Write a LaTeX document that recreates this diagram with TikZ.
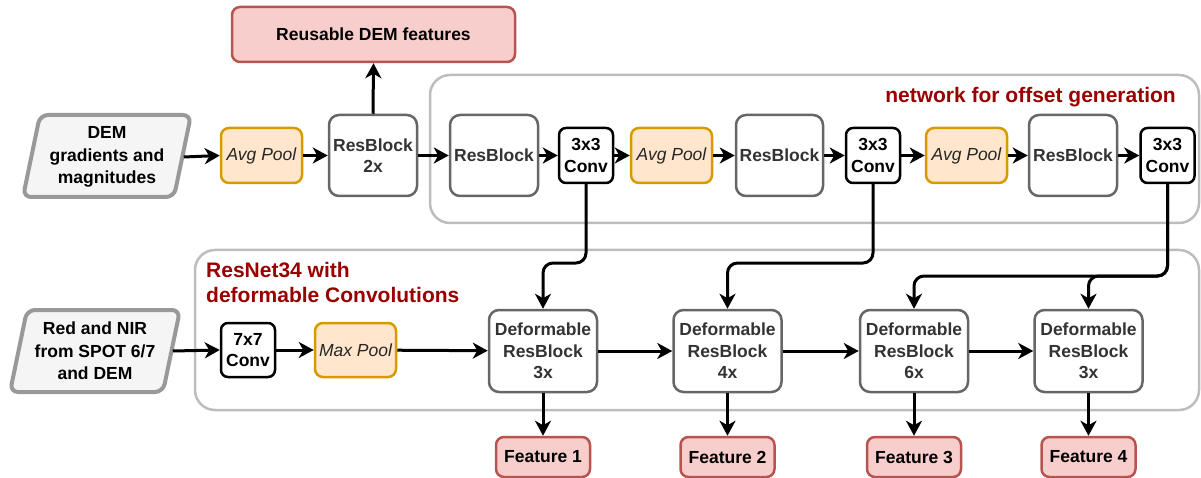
\documentclass[tikz,border=0pt]{standalone}
\usepackage{fontspec}
\setmainfont{Liberation Sans}
\usetikzlibrary{arrows.meta}
\definecolor{boxgray}{HTML}{666666}
\definecolor{txtgray}{HTML}{333333}
\definecolor{poolline}{HTML}{D79B00}
\definecolor{poolfill}{HTML}{FFE6CC}
\definecolor{featline}{HTML}{B85450}
\definecolor{featfill}{HTML}{F8CECC}
\definecolor{inline}{HTML}{999999}
\definecolor{infill}{HTML}{F5F5F5}
\definecolor{groupline}{HTML}{BDBDBD}
\definecolor{titlered}{HTML}{990000}
\tikzset{
  base/.style={inner sep=0pt, align=center, line width=2.5pt,
    font=\fontsize{17.5}{21.5}\selectfont\bfseries},
  resblk/.style={base, draw=boxgray, fill=white, text=txtgray, rounded corners=10pt},
  convblk/.style={base, draw=black, fill=white, text=black, rounded corners=7pt,
    minimum width=54pt, minimum height=55pt},
  poolblk/.style={base, draw=poolline, fill=poolfill, text=black!85, rounded corners=8pt,
    minimum width=81pt, minimum height=55pt,
    font=\fontsize{17.5}{21.5}\selectfont\itshape},
  featblk/.style={base, draw=featline, fill=featfill, text=black, rounded corners=8pt},
  inputtxt/.style={base, text=black, font=\fontsize{17.5}{22.5}\selectfont\bfseries},
  inputshape/.style={draw=inline, fill=infill, line width=4pt, rounded corners=8pt},
  group/.style={draw=groupline, line width=2.5pt, rounded corners=20pt},
  grouptitle/.style={inner sep=0pt, text=titlered, align=left,
    font=\fontsize{21}{25}\selectfont\bfseries},
  arr/.style={draw=black, line width=3pt, rounded corners=10pt,
    -{Stealth[length=15pt, width=16pt, inset=4.5pt]}},
}
\begin{document}
\begin{tikzpicture}[x=1pt, y=-1pt]
\useasboundingbox (0,0) rectangle (1201,478);

% group frames
\draw[group] (430,75) rectangle (1199,223);
\draw[group] (195,250) rectangle (1199,410);
\node[grouptitle, anchor=base east] (offtitle) at (1176,103) {network for offset generation};
\node[grouptitle, anchor=north west] (restitle) at (206,262) {ResNet34 with\\deformable Convolutions};

% inputs
\draw[inputshape] (40,115) -- (191,115) -- (174,197) -- (23,197) -- cycle;
\node[inputtxt, minimum width=151pt, minimum height=82pt] (dem) at (107,157)
  {DEM\\gradients and\\magnitudes};
\draw[inputshape] (27,310) -- (180,310) -- (163,392) -- (10,392) -- cycle;
\node[inputtxt, minimum width=153pt, minimum height=82pt] (rnir) at (95,351)
  {Red and NIR\\from SPOT 6/7\\and DEM};

% offset branch
\node[featblk, minimum width=283pt, minimum height=55pt] (reuse) at (373.5,34.5) {Reusable DEM features};
\node[poolblk] (avg1) at (261.5,155.5) {Avg Pool};
\node[resblk, minimum width=88pt, minimum height=81pt] (rb0) at (373,155.5) {ResBlock\\2x};
\node[resblk, minimum width=88pt, minimum height=81pt] (rb1) at (494,155.5) {ResBlock};
\node[convblk] (conv1) at (586,155.5) {3x3\\Conv};
\node[poolblk] (avg2) at (671.5,155.5) {Avg Pool};
\node[resblk, minimum width=87pt, minimum height=81pt] (rb2) at (779.5,155.5) {ResBlock};
\node[convblk] (conv2) at (873,155.5) {3x3\\Conv};
\node[poolblk] (avg3) at (966.5,155.5) {Avg Pool};
\node[resblk, minimum width=88pt, minimum height=81pt] (rb3) at (1073,155.5) {ResBlock};
\node[convblk] (conv3) at (1167.5,155.5) {3x3\\Conv};

% backbone
\node[convblk, minimum height=54pt] (conv7) at (248,350) {7x7\\Conv};
\node[poolblk, minimum height=54pt] (maxp) at (355.5,350) {Max Pool};
\node[resblk, minimum width=108pt, minimum height=82pt] (d1) at (543,351) {Deformable\\ResBlock\\3x};
\node[resblk, minimum width=108pt, minimum height=82pt] (d2) at (727.5,351) {Deformable\\ResBlock\\4x};
\node[resblk, minimum width=108pt, minimum height=82pt] (d3) at (914,351) {Deformable\\ResBlock\\6x};
\node[resblk, minimum width=108pt, minimum height=82pt] (d4) at (1088.5,351) {Deformable\\ResBlock\\3x};
\node[featblk, minimum width=94pt, minimum height=40pt] (f1) at (543,457) {Feature 1};
\node[featblk, minimum width=94pt, minimum height=40pt] (f2) at (727.5,457) {Feature 2};
\node[featblk, minimum width=94pt, minimum height=40pt] (f3) at (914,457) {Feature 3};
\node[featblk, minimum width=94pt, minimum height=40pt] (f4) at (1088.5,457) {Feature 4};

% top row connectors
\draw[arr] (dem.east) -- (avg1.west);
\draw[arr] (avg1) -- (rb0);
\draw[arr] (rb0.north) -- (reuse.south);
\draw[arr] (rb0) -- (rb1);
\draw[arr] (rb1) -- (conv1);
\draw[arr] (conv1) -- (avg2);
\draw[arr] (avg2) -- (rb2);
\draw[arr] (rb2) -- (conv2);
\draw[arr] (conv2) -- (avg3);
\draw[arr] (avg3) -- (rb3);
\draw[arr] (rb3) -- (conv3);

% offsets fed into the deformable blocks
\draw[arr] (conv1.south) -- (conv1.south |- 0,263) -- (d1.north |- 0,263) -- (d1.north);
\draw[arr] (conv2.south) -- (conv2.south |- 0,263) -- (d2.north |- 0,263) -- (d2.north);
\draw[arr] (conv3.south) -- (conv3.south |- 0,276) -- (d3.north |- 0,276) -- (d3.north);
\draw[arr] (conv3.south) -- (conv3.south |- 0,276) -- (d4.north |- 0,276) -- (d4.north);

% bottom row connectors
\draw[arr] (rnir.east) -- (conv7.west);
\draw[arr] (conv7) -- (maxp);
\draw[arr] (maxp) -- (d1);
\draw[arr] (d1) -- (d2);
\draw[arr] (d2) -- (d3);
\draw[arr] (d3) -- (d4);
\draw[arr] (d1) -- (f1);
\draw[arr] (d2) -- (f2);
\draw[arr] (d3) -- (f3);
\draw[arr] (d4) -- (f4);
\end{tikzpicture}
\end{document}
